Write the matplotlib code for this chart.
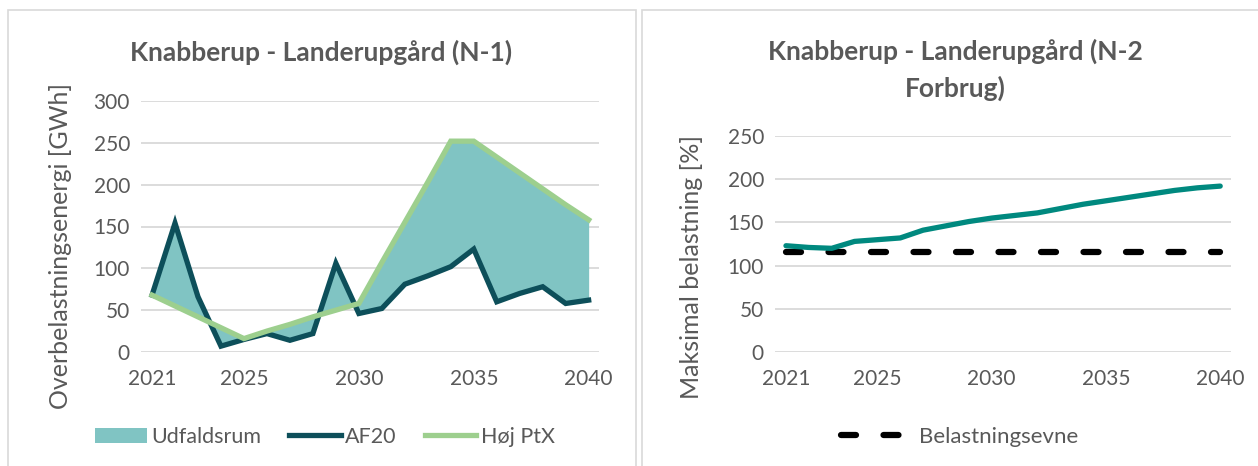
import matplotlib
matplotlib.use("Agg")
import matplotlib.pyplot as plt
from matplotlib.patches import Rectangle
from matplotlib.lines import Line2D
from matplotlib.patches import Patch

plt.rcParams['font.family'] = ['Lato', 'DejaVu Sans']

years = list(range(2021, 2041))
af20 = [68, 154, 66, 7, 15, 22, 14, 22, 106, 46, 52, 81, 91, 102, 123, 60, 70, 78, 58, 62]
hoj_ptx = [68, 55, 42, 29, 16, 25, 33, 42, 50, 58, 107, 155, 203, 252, 252, 233, 214, 195, 176, 158]
maks_belastning = [123, 121, 120, 128, 130, 132, 141, 146, 151, 155, 158, 161, 166, 171, 175, 179, 183, 187, 190, 192]
belastningsevne = [116] * 20
xticks = [2021, 2025, 2030, 2035, 2040]

TXT = '#595959'
GRID = '#d9d9d9'
C_AF20 = '#0d4f5a'
C_PTX = '#9dcf8e'
C_FILL = '#80c4c3'
C_RIGHT = '#00897f'

W, H = 1258, 466
fig = plt.figure(figsize=(W / 100, H / 100), dpi=100)

# panel borders
for x0, x1 in [(7.5, 635.5), (642, 1262)]:
    fig.patches.append(Rectangle((x0 / W, -0.05), (x1 - x0) / W, 1.05 - 10 / H,
                                 transform=fig.transFigure, fill=False,
                                 edgecolor=GRID, linewidth=1.2))

def style(ax, ylim, yticks):
    ax.set_xlim(2020.52, 2040.45)
    ax.set_ylim(*ylim)
    ax.set_yticks(yticks)
    ax.set_xticks(xticks)
    for s in ax.spines.values():
        s.set_visible(False)
    ax.grid(axis='y', color=GRID, linewidth=1.3)
    ax.set_axisbelow(True)
    ax.tick_params(length=0, labelsize=15, colors=TXT, pad=8)
    ax.tick_params(axis='x', pad=12)

# left panel
ax1 = fig.add_axes([141 / W, 1 - 352 / H, (599 - 141) / W, (352 - 101) / H])
style(ax1, (0, 300), range(0, 301, 50))
ax1.fill_between(years, af20, hoj_ptx, color=C_FILL, linewidth=0)
ax1.plot(years, af20, color=C_AF20, linewidth=3.8, solid_joinstyle='miter')
ax1.plot(years, hoj_ptx, color=C_PTX, linewidth=3.8, solid_joinstyle='miter')
ax1.set_ylabel('Overbelastningsenergi [GWh]', fontsize=18, color=TXT)
ax1.yaxis.set_label_coords(-0.151, 0.422)
fig.text(321 / W, 1 - 52 / H, 'Knabberup - Landerupgård (N-1)', ha='center', va='center',
         fontsize=19, fontweight='bold', color=TXT)

h1 = [Patch(facecolor=C_FILL, edgecolor='none'),
      Line2D([], [], color=C_AF20, linewidth=3.8),
      Line2D([], [], color=C_PTX, linewidth=3.8)]
fig.legend(h1, ['Udfaldsrum', 'AF20', 'Høj PtX'], loc='center',
           bbox_to_anchor=(325 / W, 1 - 437 / H), ncol=3, frameon=False,
           fontsize=15.5, labelcolor=TXT, handlelength=2.4, handletextpad=0.2,
           columnspacing=1.3, handleheight=0.7)

# right panel
ax2 = fig.add_axes([775 / W, 1 - 352 / H, (1230.5 - 775) / W, (352 - 136) / H])
style(ax2, (0, 250), range(0, 251, 50))
ax2.plot(years, belastningsevne, color='black', linewidth=4.5, linestyle=(0, (2.4, 4.4)),
         dash_capstyle='round')
ax2.plot(years, maks_belastning, color=C_RIGHT, linewidth=3.8, solid_capstyle='round')
ax2.set_ylabel('Maksimal belastning [%]', fontsize=18, color=TXT)
ax2.yaxis.set_label_coords(-0.158, 0.393)
fig.text(955 / W, 1 - 70 / H, 'Knabberup - Landerupgård (N-2\nForbrug)', ha='center', va='center',
         fontsize=19, fontweight='bold', color=TXT, linespacing=1.55)

h2 = [Line2D([], [], color='black', linewidth=4.5, linestyle=(0, (2.4, 4.4)),
             dash_capstyle='round')]
fig.legend(h2, ['Belastningsevne'], loc='center',
           bbox_to_anchor=(960 / W, 1 - 437 / H), frameon=False,
           fontsize=16, labelcolor=TXT, handlelength=2.9, handletextpad=0.6)

fig.savefig('out.png', dpi=100)
